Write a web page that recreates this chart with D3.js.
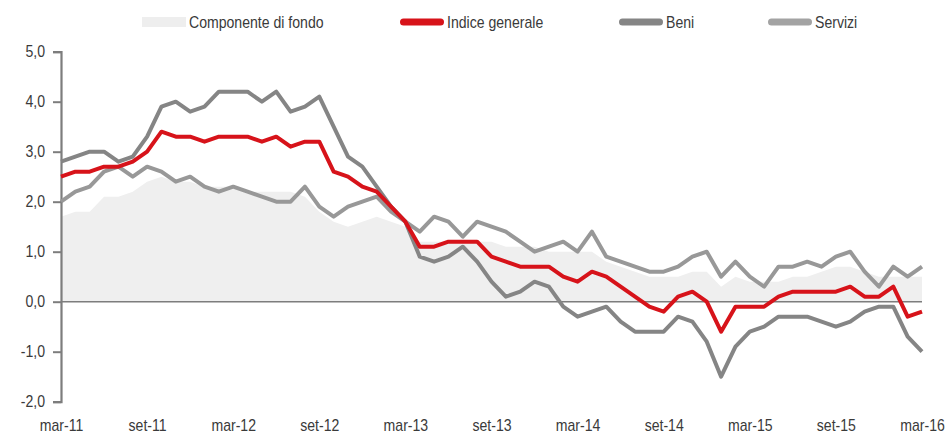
<!DOCTYPE html>
<html><head><meta charset="utf-8">
<script src="https://cdn.jsdelivr.net/npm/d3@7/dist/d3.min.js"></script>
<style>
body{margin:0;background:#fff;}
svg{display:block;}
text{font-family:"Liberation Sans",Arial,sans-serif;fill:#3a3a3a;}
</style>
</head><body>
<svg id="chart" width="949" height="435"></svg>
<script>
// ---- DATA ----
const months = [
 "mar-11","apr-11","mag-11","giu-11","lug-11","ago-11","set-11","ott-11","nov-11","dic-11",
 "gen-12","feb-12","mar-12","apr-12","mag-12","giu-12","lug-12","ago-12","set-12","ott-12","nov-12","dic-12",
 "gen-13","feb-13","mar-13","apr-13","mag-13","giu-13","lug-13","ago-13","set-13","ott-13","nov-13","dic-13",
 "gen-14","feb-14","mar-14","apr-14","mag-14","giu-14","lug-14","ago-14","set-14","ott-14","nov-14","dic-14",
 "gen-15","feb-15","mar-15","apr-15","mag-15","giu-15","lug-15","ago-15","set-15","ott-15","nov-15","dic-15",
 "gen-16","feb-16","mar-16"];
const tickLabels = ["mar-11","set-11","mar-12","set-12","mar-13","set-13","mar-14","set-14","mar-15","set-15","mar-16"];
const yTickValues = [-2,-1,0,1,2,3,4,5];
const legendLabels = ["Componente di fondo","Indice generale","Beni","Servizi"];

const indiceGenerale = [2.5,2.6,2.6,2.7,2.7,2.8,3.0,3.4,3.3,3.3,
 3.2,3.3,3.3,3.3,3.2,3.3,3.1,3.2,3.2,2.6,2.5,2.3,
 2.2,1.9,1.6,1.1,1.1,1.2,1.2,1.2,0.9,0.8,0.7,0.7,
 0.7,0.5,0.4,0.6,0.5,0.3,0.1,-0.1,-0.2,0.1,0.2,0.0,
 -0.6,-0.1,-0.1,-0.1,0.1,0.2,0.2,0.2,0.2,0.3,0.1,0.1,
 0.3,-0.3,-0.2];
const beni = [2.8,2.9,3.0,3.0,2.8,2.9,3.3,3.9,4.0,3.8,
 3.9,4.2,4.2,4.2,4.0,4.2,3.8,3.9,4.1,3.5,2.9,2.7,
 2.3,1.9,1.6,0.9,0.8,0.9,1.1,0.8,0.4,0.1,0.2,0.4,
 0.3,-0.1,-0.3,-0.2,-0.1,-0.4,-0.6,-0.6,-0.6,-0.3,-0.4,-0.8,
 -1.5,-0.9,-0.6,-0.5,-0.3,-0.3,-0.3,-0.4,-0.5,-0.4,-0.2,-0.1,
 -0.1,-0.7,-1.0];
const servizi = [2.0,2.2,2.3,2.6,2.7,2.5,2.7,2.6,2.4,2.5,
 2.3,2.2,2.3,2.2,2.1,2.0,2.0,2.3,1.9,1.7,1.9,2.0,
 2.1,1.8,1.6,1.4,1.7,1.6,1.3,1.6,1.5,1.4,1.2,1.0,
 1.1,1.2,1.0,1.4,0.9,0.8,0.7,0.6,0.6,0.7,0.9,1.0,
 0.5,0.8,0.5,0.3,0.7,0.7,0.8,0.7,0.9,1.0,0.6,0.3,
 0.7,0.5,0.7];
const componenteDiFondo = [1.7,1.8,1.8,2.1,2.1,2.2,2.4,2.5,2.4,2.4,
 2.3,2.3,2.3,2.2,2.2,2.2,2.2,2.1,1.8,1.6,1.5,1.6,
 1.7,1.6,1.5,1.2,1.2,1.2,1.2,1.2,1.2,1.1,1.1,1.1,
 1.0,1.0,1.0,1.0,0.8,0.7,0.6,0.5,0.5,0.5,0.6,0.6,
 0.3,0.5,0.4,0.4,0.4,0.5,0.5,0.6,0.7,0.7,0.6,0.5,
 0.5,0.5,0.5];

// ---- CHART ----
const NARROW = 0.88;
const svg = d3.select("#chart");
const x = d3.scalePoint().domain(months).range([61, 922]);
const y = d3.scaleLinear().domain([-2, 5]).range([401.7, 51.7]);

const area = d3.area()
  .x((d, i) => x(months[i])).y0(y(0)).y1(d => y(d));
svg.append("path").datum(componenteDiFondo)
  .attr("d", area).attr("fill", "#efefef");

// zero line
svg.append("line")
  .attr("x1", x(months[0])).attr("x2", x(months[months.length - 1]))
  .attr("y1", y(0)).attr("y2", y(0))
  .attr("stroke", "#7d7d7d").attr("stroke-width", 1.6);

// y axis
const yAxis = svg.append("g").attr("transform", "translate(61,0)")
  .call(d3.axisLeft(y).tickValues(yTickValues).tickSizeOuter(0).tickSize(8).tickPadding(8)
    .tickFormat(d => d.toFixed(1).replace(".", ",")));
yAxis.select(".domain").attr("stroke", "#7d7d7d").attr("stroke-width", 2.2);
yAxis.selectAll(".tick line").attr("stroke", "#7d7d7d").attr("stroke-width", 2);
yAxis.selectAll(".tick text").style("font-size", "16px").attr("fill", "#3a3a3a")
  .attr("x", -16 / NARROW).attr("transform", `scale(${NARROW},1)`);

// x axis labels
const xAxis = svg.append("g").attr("transform", "translate(0,417)")
  .call(d3.axisBottom(x).tickValues(tickLabels).tickSize(0).tickPadding(3));
xAxis.select(".domain").remove();
xAxis.selectAll(".tick text").style("font-size", "16px").attr("fill", "#3a3a3a")
  .attr("transform", `scale(${NARROW},1)`);

// lines
const line = d3.line().x((d, i) => x(months[i])).y(d => y(d));
const series = [
  {data: servizi, color: "#989898"},
  {data: beni, color: "#858585"},
  {data: indiceGenerale, color: "#d7131a"}
];
series.forEach(s => {
  svg.append("path").datum(s.data).attr("d", line)
    .attr("fill", "none").attr("stroke", s.color)
    .attr("stroke-width", 4).attr("stroke-linejoin", "round").attr("stroke-linecap", "butt");
});

// legend
const legendItems = [
  {label: legendLabels[0], color: "#eeeeee", x: 142, type: "rect"},
  {label: legendLabels[1], color: "#d7131a", x: 400, type: "line"},
  {label: legendLabels[2], color: "#858585", x: 619, type: "line"},
  {label: legendLabels[3], color: "#a3a3a3", x: 768, type: "line"}
];
const lg = svg.append("g");
legendItems.forEach(it => {
  if (it.type === "rect") {
    lg.append("rect").attr("x", it.x).attr("y", 17).attr("width", 44).attr("height", 10).attr("fill", it.color);
  } else {
    lg.append("rect").attr("x", it.x).attr("y", 18.5).attr("width", 44).attr("height", 7)
      .attr("rx", 3.5).attr("fill", it.color);
  }
  lg.append("text").attr("transform", `translate(${it.x + 47},22) scale(${NARROW},1)`)
    .attr("dy", "0.35em").style("font-size", "16px").text(it.label);
});
</script>
</body></html>
